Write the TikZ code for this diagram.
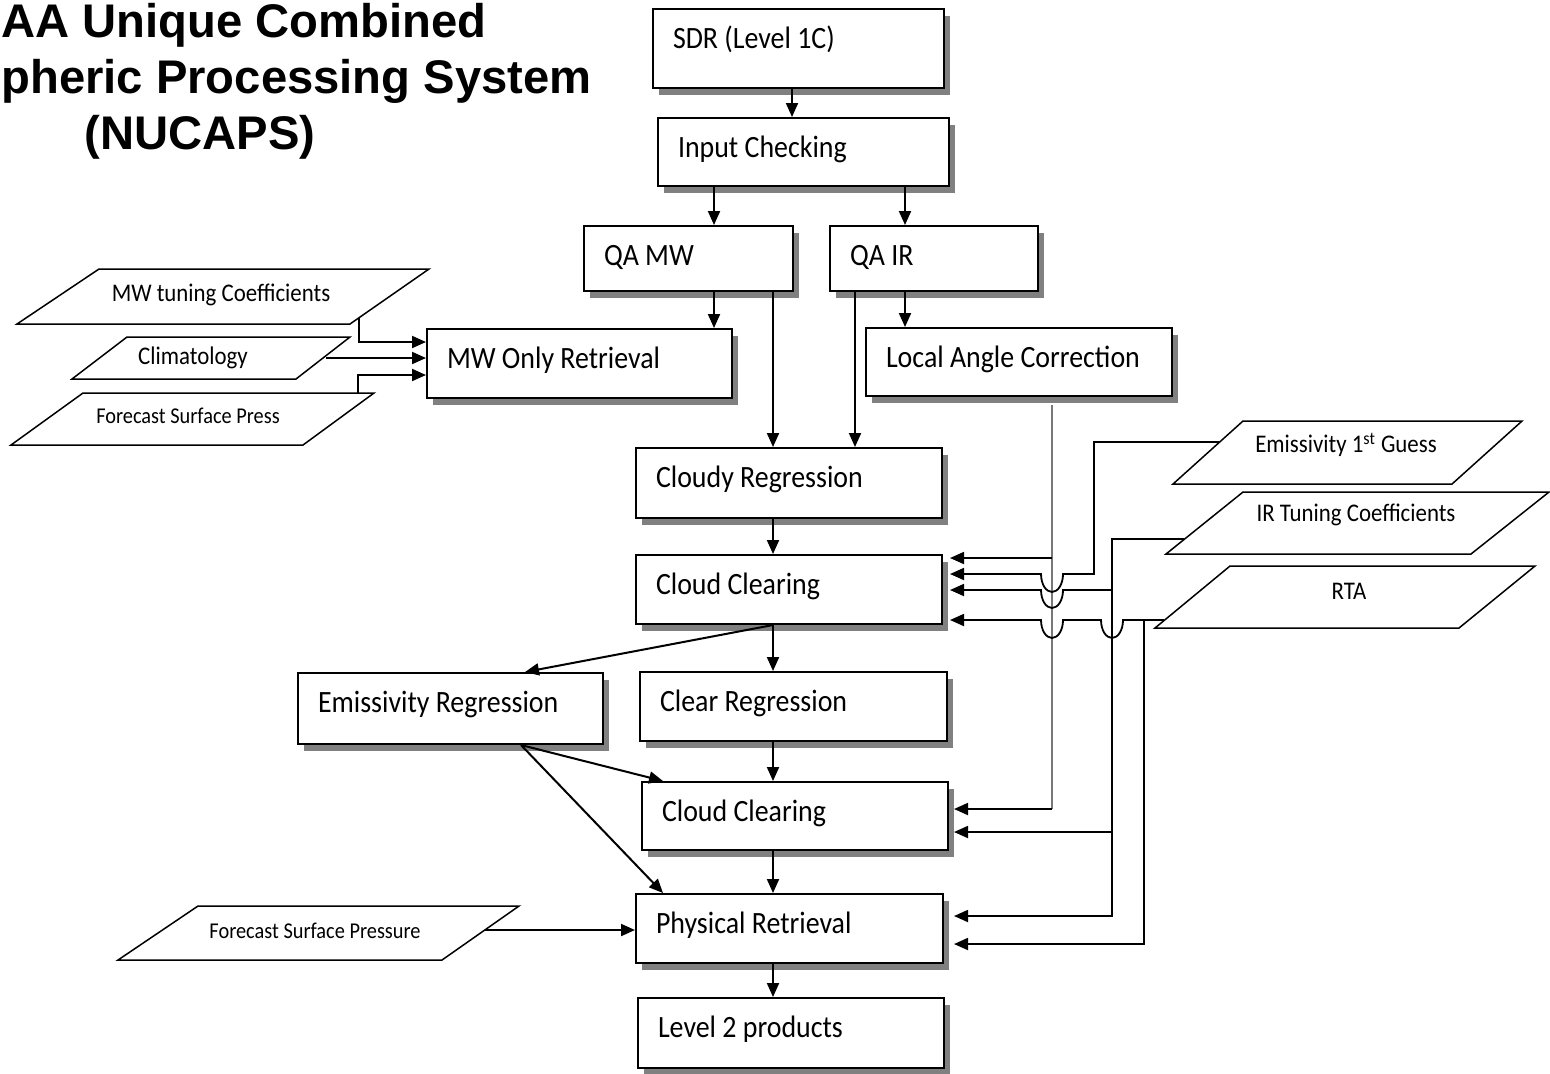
\documentclass[tikz,border=0pt]{standalone}
\usepackage{fontspec}
\usepackage{tikz}
\usetikzlibrary{arrows.meta}
\usetikzlibrary{shadows}
\newfontfamily\boxfont{Carlito}[FakeStretch=0.9]
\newfontfamily\headfont{Liberation Sans}
\definecolor{shadegray}{RGB}{128,128,128}
\definecolor{trunkgray}{RGB}{120,120,120}

\begin{document}
\begin{tikzpicture}[x=0.5pt, y=-0.5pt, >={Triangle[length=7pt, width=6pt]},
	proc/.style={draw, line width=1pt, fill=white, anchor=north west, general shadow={fill=shadegray, shadow xshift=3pt, shadow yshift=-3.5pt}, inner xsep=10pt, inner ysep=0pt, text width=#1, align=flush left, text height=19.5pt, text depth=15pt, font=\boxfont\fontsize{15.5}{18}\selectfont},
	proc/.default=133pt,
	inbox/.style={draw, line width=0.75pt},
	inlabel/.style={font=\boxfont\fontsize{12.7}{15}\selectfont},
	inlabelsmall/.style={font=\boxfont\fontsize{11.3}{14}\selectfont},
	headline/.style={inner sep=0pt, font=\headfont\bfseries\fontsize{23.6}{28}\selectfont},
	flow/.style={->, line width=1pt},
	feed/.style={->, line width=0.9pt, shorten >=#1},
	feed/.default=3.5pt,
	trunk/.style={line width=0.8pt, trunkgray},
	hop/.style={start angle=0, end angle=-180, x radius=5.5pt, y radius=9pt}]

	\useasboundingbox (0,0) rectangle (1550,1073);

	\node[headline, anchor=base west] (title1) at (1,37) {AA Unique Combined};
	\node[headline, anchor=base west] (title2) at (1,93) {pheric Processing System};
	\node[headline, anchor=base] (title3) at (200,149) {(NUCAPS)};

	\node[proc=125.5pt, text depth=20pt] (sdr) at (652,8) {SDR (Level 1C)};
	\node[proc=125.5pt, text depth=14.5pt] (inchk) at (657,117) {Input Checking};
	\node[proc=84.5pt, text depth=13pt] (qamw) at (583,225) {QA MW};
	\node[proc=84pt, text depth=13pt] (qair) at (829,225) {QA IR};
	\node[proc=132.5pt] (mwret) at (426,328) {MW Only Retrieval};
	\node[proc, text depth=14.5pt] (lac) at (865,327) {Local Angle Correction};
	\node[proc, text depth=15.5pt] (cloudyreg) at (635,447) {Cloudy Regression};
	\node[proc] (ccl1) at (635,554) {Cloud Clearing};
	\node[proc=132.5pt, text depth=16pt] (emisreg) at (297,672) {Emissivity Regression};
	\node[proc=133.5pt] (clearreg) at (639,671) {Clear Regression};
	\node[proc, text depth=14.5pt] (ccl2) at (641,781) {Cloud Clearing};
	\node[proc=133.5pt] (physret) at (635,893) {Physical Retrieval};
	\node[proc, text depth=15.5pt] (lvltwo) at (637,997) {Level 2 products};

	\draw[inbox] (99,269) -- (429,269) -- (350,324) -- (17,324) -- cycle;
	\node[inlabel] (mwcoef) at (221,295) {MW tuning Coefficients};
	\draw[inbox] (127,337) -- (350,337) -- (296,379) -- (72,379) -- cycle;
	\node[inlabel] (clim) at (193,358) {Climatology};
	\draw[inbox] (83,393) -- (374,393) -- (303,445) -- (11,445) -- cycle;
	\node[inlabelsmall] (fcpress) at (188,416) {Forecast Surface Press};
	\draw[inbox] (1243,421) -- (1522,421) -- (1452,484) -- (1173,484) -- cycle;
	\node[inlabel] (emisguess) at (1346,445) {Emissivity 1\textsuperscript{st} Guess};
	\draw[inbox] (1243,492) -- (1549,492) -- (1471,554) -- (1166,554) -- cycle;
	\node[inlabel] (ircoef) at (1356,515) {IR Tuning Coefficients};
	\draw[inbox] (1230,566) -- (1535,566) -- (1459,628) -- (1155,628) -- cycle;
	\node[inlabel] (rta) at (1349,591) {RTA};
	\draw[inbox] (198,906) -- (519,906) -- (442,960) -- (118,960) -- cycle;
	\node[inlabelsmall] (fcpressure) at (315,931) {Forecast Surface Pressure};

	\coordinate (mwout) at (359,318);
	\coordinate (climout) at (326,358);
	\coordinate (fspout) at (358,393);
	\coordinate (fsp2out) at (485,930);
	\coordinate (emisout) at (1219,442);
	\coordinate (irout) at (1184,539);
	\coordinate (rtaout) at (1164,620);
	\coordinate (irbus) at (1112,590);
	\coordinate (irbus2) at (1112,832);
	\coordinate (rtabus) at (1144,620);
	\coordinate (lacbus) at (1052,558);
	\coordinate (lacend) at (1052,809);

	\path[flow]
	(sdr.south -| 792,0)		edge (inchk.north -| 792,0)
	(inchk.south -| 714,0)		edge (qamw.north -| 714,0)
	(inchk.south -| 905,0)		edge (qair.north -| 905,0)
	(qamw.south -| 714,0)		edge (mwret.north -| 714,0)
	(qamw.south -| 773,0)		edge (cloudyreg.north -| 773,0)
	(qair.south -| 855,0)		edge (cloudyreg.north -| 855,0)
	(qair.south -| 905,0)		edge (lac.north -| 905,0)
	(cloudyreg.south -| 773,0)	edge (ccl1.north -| 773,0)
	(ccl1.south -| 773,0)		edge (clearreg.north -| 773,0)
					edge (emisreg.north -| 525,0)
	(clearreg.south -| 773,0)	edge (ccl2.north -| 773,0)
	(emisreg.south -| 521,0)	edge (ccl2.north -| 663,0)
					edge (physret.north -| 663,0)
	(ccl2.south -| 773,0)		edge (physret.north -| 773,0)
	(physret.south -| 773,0)	edge (lvltwo.north -| 773,0)
	(fsp2out)			edge (physret.west |- fsp2out)
	(climout)			edge (mwret.west |- climout);

	\draw[flow] (mwout) |- (mwret.west |- 0,342);
	\draw[flow] (fspout) |- (mwret.west |- 0,375);

	\draw[trunk] (lac.south -| 1052,0) ++(0,8) -- (lacend);
	\draw[feed] (lacbus) -- (ccl1.east |- lacbus);
	\draw[feed=2.5pt] (lacend) -- (ccl2.east |- lacend);

	\draw[feed] (emisout) -| (1094,574) -- (1063,574) arc[hop] -- (ccl1.east |- 0,574);
	\draw[feed=5pt] (irout) -| (1112,916) -- (physret.east |- 0,916);
	\draw[feed] (irbus) -- (1063,590) arc[hop] -- (ccl1.east |- irbus);
	\draw[feed=2.5pt] (irbus2) -- (ccl2.east |- irbus2);
	\draw[feed] (rtaout) -- (1123,620) arc[hop] -- (1063,620) arc[hop] -- (ccl1.east |- rtaout);
	\draw[feed=5pt] (rtabus) |- (physret.east |- 0,944);
\end{tikzpicture}
\end{document}
